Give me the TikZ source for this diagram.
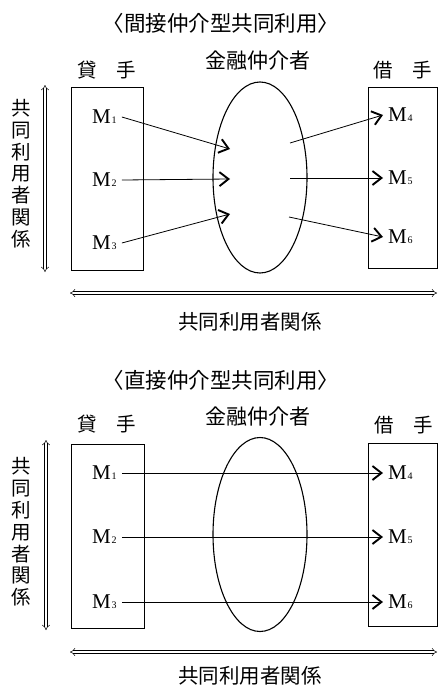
\documentclass[tikz,border=0pt]{standalone}
\usepackage{fontspec}
\newfontfamily\jp{Noto Sans CJK JP}
\newfontfamily\mfont{Liberation Serif}
\usetikzlibrary{arrows.meta}
\newcommand{\mlab}[1]{{\mfont\fontsize{21}{21}\selectfont M\kern0.8pt{\fontsize{10}{10}\selectfont #1}}}
\begin{document}
\begin{tikzpicture}[x=1pt,y=-1pt,
  title/.style={font=\jp\fontsize{21.5}{21.5}\selectfont, inner sep=0pt},
  head/.style={font=\jp\fontsize{19.5}{19.5}\selectfont, inner sep=0pt},
  midhead/.style={font=\jp\fontsize{21}{21}\selectfont, inner sep=0pt},
  vlab/.style={font=\jp\fontsize{19.5}{21.8}\selectfont, inner sep=0pt, align=center},
  botlab/.style={font=\jp\fontsize{20.5}{20.5}\selectfont, inner sep=0pt},
  mnode/.style={inner sep=5pt},
  box/.style={draw, line width=0.9pt},
  oval/.style={draw, line width=1.1pt},
  arr/.style={line width=0.8pt, -{Straight Barb[length=9pt,width=14pt,line width=1.9pt]}},
  dbl/.style={double, double distance=2.2pt, line width=0.5pt, {Implies[scale=1.8]}-{Implies[scale=1.8]}}
]
\useasboundingbox (0,0) rectangle (439,688);

% ===== top diagram =====
\node[title] (t1) at (221,23) {〈間接仲介型共同利用〉};
\node[head] (lend1) at (107,70) {貸\hspace{1em}手};
\node[midhead] (mid1) at (258,61) {金融仲介者};
\node[head] (borr1) at (403,70) {借\hspace{1em}手};

\draw[box] (71,87) rectangle (143,270);
\draw[box] (368,87) rectangle (437.5,268);
\draw[oval] (260,177.5) ellipse [x radius=47, y radius=95.5];

\node[mnode, anchor=west] (a1) at (87,117) {\mlab{1}};
\node[mnode, anchor=west] (a2) at (87,180) {\mlab{2}};
\node[mnode, anchor=west] (a3) at (87,243) {\mlab{3}};
\node[mnode, anchor=west] (a4) at (383,115) {\mlab{4}};
\node[mnode, anchor=west] (a5) at (383,178) {\mlab{5}};
\node[mnode, anchor=west] (a6) at (383,237) {\mlab{6}};

\coordinate (p1) at (230,149);
\coordinate (p2) at (230,179);
\coordinate (p3) at (230,214);
\coordinate (q1) at (290,143);
\coordinate (q2) at (290,178);
\coordinate (q3) at (289,217);

\draw[arr] (a1.east) -- (p1);
\draw[arr] (a2.east) -- (p2);
\draw[arr] (a3.east) -- (p3);
\draw[arr] (q1) -- (a4.west);
\draw[arr] (q2) -- (a5.west);
\draw[arr] (q3) -- (a6.west);

\coordinate (v1a) at (45,85);
\coordinate (v1b) at (45,272);
\draw[dbl] (v1a) -- (v1b);
\node[vlab] (vt1) at (21,173.5) {共\\同\\利\\用\\者\\関\\係};

\coordinate (h1a) at (70,293);
\coordinate (h1b) at (437,293);
\draw[dbl] (h1a) -- (h1b);
\node[botlab] (bt1) at (250,322) {共同利用者関係};

% ===== bottom diagram =====
\node[title] (t2) at (221,380) {〈直接仲介型共同利用〉};
\node[head] (lend2) at (107,424) {貸\hspace{1em}手};
\node[midhead] (mid2) at (258,417) {金融仲介者};
\node[head] (borr2) at (404,425) {借\hspace{1em}手};

\draw[box] (71,444) rectangle (144,628);
\draw[box] (368,443) rectangle (437.5,626);
\draw[oval] (260,534.5) ellipse [x radius=47, y radius=97];

\node[mnode, anchor=west] (b1) at (87,473) {\mlab{1}};
\node[mnode, anchor=west] (b2) at (87,537) {\mlab{2}};
\node[mnode, anchor=west] (b3) at (87,602) {\mlab{3}};
\node[mnode, anchor=west] (b4) at (383,473) {\mlab{4}};
\node[mnode, anchor=west] (b5) at (383,537) {\mlab{5}};
\node[mnode, anchor=west] (b6) at (383,602) {\mlab{6}};

\draw[arr] (b1) -- (b4);
\draw[arr] (b2) -- (b5);
\draw[arr] (b3) -- (b6);

\coordinate (v2a) at (46,440);
\coordinate (v2b) at (46,630);
\draw[dbl] (v2a) -- (v2b);
\node[vlab] (vt2) at (21,532) {共\\同\\利\\用\\者\\関\\係};

\coordinate (h2a) at (70,652);
\coordinate (h2b) at (437,652);
\draw[dbl] (h2a) -- (h2b);
\node[botlab] (bt2) at (250,676) {共同利用者関係};
\end{tikzpicture}
\end{document}
